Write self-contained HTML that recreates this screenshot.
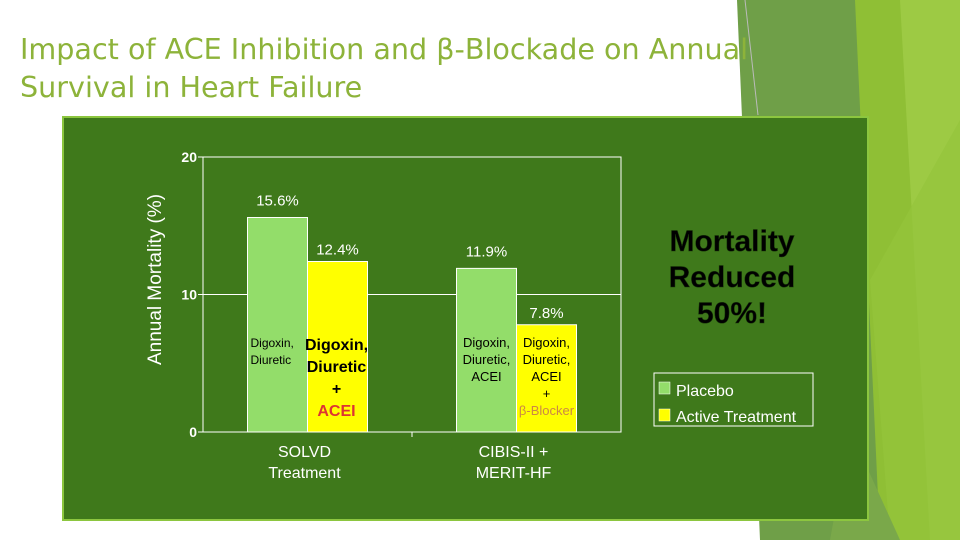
<!DOCTYPE html>
<html><head><meta charset="utf-8"><style>
body{margin:0;width:960px;height:540px;overflow:hidden;background:#fff;font-family:"Liberation Sans",sans-serif;position:relative}
.t{position:absolute;left:20px;top:30px;color:#8db33a;font-size:28.6px;line-height:38px;font-family:"DejaVu Sans","Liberation Sans",sans-serif;font-weight:normal}
</style></head><body>
<svg width="960" height="540" style="position:absolute;left:0;top:0">
<polygon points="737,0 870,0 905,540 760,540" fill="#6f9f48"/>
<polygon points="855,0 960,0 960,540 880,540" fill="#8fbf35"/>
<polygon points="900,0 960,0 960,540 930,540" fill="#9dca44"/>
<polygon points="870,280 960,120 960,540 890,540" fill="#94c43c" opacity="0.7"/>
<polygon points="850,430 900,540 830,540" fill="#7aa84a"/>
<line x1="745" y1="0" x2="758" y2="115" stroke="#bbb" stroke-width="1"/>
</svg>
<div class="t">Impact of ACE Inhibition and β-Blockade on Annual<br>Survival in Heart Failure</div>
<svg id="c" width="960" height="540" style="position:absolute;left:0;top:0"></svg>
<script>
const categories=["SOLVD|Treatment","CIBIS-II +|MERIT-HF"];
const placebo=[15.6,11.9];
const active=[12.4,7.8];
const yTicks=[0,10,20];
const placeboNotes=[["Digoxin,","Diuretic"],["Digoxin,","Diuretic,","ACEI"]];
const NS="http://www.w3.org/2000/svg";
const svg=document.getElementById('c');
function el(t,a,p){const e=document.createElementNS(NS,t);for(const k in a)e.setAttribute(k,a[k]);(p||svg).appendChild(e);return e;}
const X0=203,X1=621,Y0=432,Y1=157;
const y=v=>Y0-(v/20)*(Y0-Y1);
const groupW=(X1-X0)/categories.length;
const barW=60;
const gx=i=>X0+groupW*i+groupW/2;
let p=el('rect',{x:63,y:117,width:805,height:403,fill:"#3f791b",stroke:"#8cc63f","stroke-width":2});

let plot=el('rect',{x:X0,y:Y1,width:X1-X0,height:Y0-Y1,fill:"none",stroke:"#fff","stroke-width":1});

yTicks.forEach(v=>{
 let g=el('line',{x1:X0-5,x2:X1,y1:y(v),y2:y(v),stroke:"#fff","stroke-width":1});
 
 let t=el('text',{x:X0-6,y:y(v)+5,"text-anchor":"end",fill:"#fff","font-size":14,"font-weight":"bold"});t.textContent=v;
 
});
let tk=el('line',{x1:X0+groupW,x2:X0+groupW,y1:Y0,y2:Y0+5,stroke:"#fff"});
let yt=el('text',{transform:"translate(161,"+((Y0+Y1)/2-15)+") rotate(-90)","text-anchor":"middle",fill:"#fff","font-size":19});yt.textContent="Annual Mortality (%)";

categories.forEach((c,i)=>{
 const cx=gx(i);
 let b1=el('rect',{x:cx-barW,y:y(placebo[i]),width:barW,height:Y0-y(placebo[i]),fill:"#93dd6a",stroke:"#fff","stroke-width":1});
 
 let b2=el('rect',{x:cx,y:y(active[i]),width:barW,height:Y0-y(active[i]),fill:"#ffff00",stroke:"#fff","stroke-width":1});
 
 let l1=el('text',{x:cx-barW/2,y:y(placebo[i])-12,"text-anchor":"middle",fill:"#fff","font-size":15});l1.textContent=placebo[i]+"%";
 
 let l2=el('text',{x:cx+barW/2,y:y(active[i])-7,"text-anchor":"middle",fill:"#fff","font-size":15});l2.textContent=active[i]+"%";
 
 c.split("|").forEach((s,k)=>{let t=el('text',{x:cx-3,y:457+k*21,"text-anchor":"middle",fill:"#fff","font-size":16});t.textContent=s;
  });
 placeboNotes[i].forEach((s,k)=>{let t=el('text',{x:i==0?cx-barW+3:cx-barW/2,y:347+k*17,"text-anchor":i==0?"start":"middle",fill:"#000","font-size":i==0?12:13});t.textContent=s;});
});
[["Digoxin,",0,"#000",16,"bold"],["Diuretic",1,"#000",16,"bold"],["+",2,"#000",16,"bold"],["ACEI",3,"#d33",16,"bold"]].forEach(a=>{let t=el('text',{x:gx(0)+barW/2-1,y:350+a[1]*22,"text-anchor":"middle",fill:a[2],"font-size":a[3],"font-weight":a[4]});t.textContent=a[0];});
[["Digoxin,","#000"],["Diuretic,","#000"],["ACEI","#000"],["+","#000"],["β-Blocker","#c84"]].forEach((a,k)=>{let t=el('text',{x:gx(1)+barW/2,y:347+k*17,"text-anchor":"middle",fill:a[1],"font-size":13});t.textContent=a[0];});
["Mortality","Reduced","50%!"].forEach((s,k)=>{let t=el('text',{x:732,y:251+k*36,"text-anchor":"middle",fill:"#000","font-size":30,"font-weight":"bold",stroke:"#1a3a0a","stroke-width":0.5});t.textContent=s;
 });
let lg=el('rect',{x:654,y:373,width:159,height:53,fill:"none",stroke:"#fff"});

[["Placebo","#93dd6a"],["Active Treatment","#ffff00"]].forEach((a,k)=>{
 el('rect',{x:659,y:382+k*27,width:11,height:12,fill:a[1],stroke:"#fff","stroke-width":0.5});
 let t=el('text',{x:676,y:396+k*26,fill:"#fff","font-size":16});t.textContent=a[0];
 
});
</script>
</body></html>
